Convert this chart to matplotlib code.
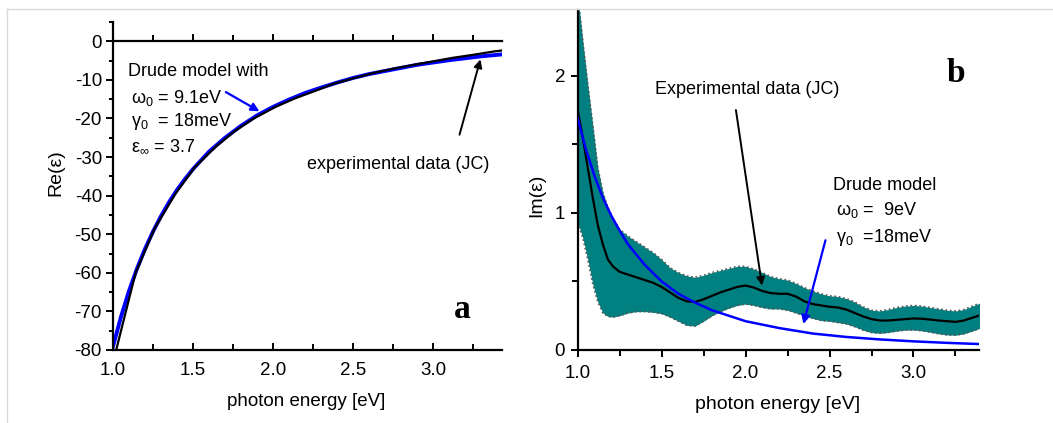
import matplotlib.pyplot as plt
from matplotlib.ticker import MultipleLocator
from matplotlib.lines import Line2D

plt.rcParams['font.family'] = ['Liberation Sans', 'DejaVu Sans']
plt.rcParams['axes.unicode_minus'] = False
plt.rcParams['mathtext.fontset'] = 'custom'
plt.rcParams['mathtext.rm'] = 'Liberation Sans'
plt.rcParams['mathtext.it'] = 'Liberation Sans'

# (a) real part
e_drude_re = [1.00, 1.05, 1.10, 1.15, 1.20, 1.25, 1.30, 1.35, 1.40, 1.45, 1.50, 1.60, 1.70, 1.80,
              1.90, 2.00, 2.10, 2.20, 2.30, 2.40, 2.50, 2.60, 2.70, 2.80, 2.90, 3.00, 3.10,
              3.20, 3.30, 3.43]
re_drude = [-79.1, -71.4, -64.7, -58.9, -53.8, -49.3, -45.3, -41.7, -38.5, -35.7, -33.1, -28.6,
            -25.0, -21.9, -19.2, -17.0, -15.1, -13.4, -12.0, -10.7, -9.5, -8.5, -7.7, -6.9,
            -6.1, -5.5, -4.9, -4.4, -3.9, -3.4]
e_jc_re = [1.02, 1.14, 1.26, 1.39, 1.51, 1.64, 1.76, 1.88, 2.01, 2.13, 2.26, 2.38,
           2.50, 2.63, 2.75, 2.88, 3.00, 3.12, 3.25, 3.37, 3.50]
re_jc = [-80.0, -60.2, -48.5, -39.5, -32.7, -27.4, -23.3, -20.0, -17.1, -14.9, -12.9, -11.0,
         -9.6, -8.2, -7.1, -6.1, -5.2, -4.3, -3.5, -2.7, -2.0]

# (b) imaginary part
e_band = [1.00, 1.03, 1.06, 1.09, 1.12, 1.15, 1.18, 1.21, 1.25, 1.30, 1.35, 1.40, 1.45, 1.50,
          1.55, 1.60, 1.65, 1.70, 1.75, 1.80, 1.85, 1.90, 1.95, 2.00, 2.05, 2.10, 2.15, 2.20,
          2.25, 2.30, 2.35, 2.40, 2.45, 2.50, 2.55, 2.60, 2.65, 2.70, 2.75, 2.80, 2.85, 2.90,
          2.95, 3.00, 3.05, 3.10, 3.15, 3.20, 3.25, 3.30, 3.35, 3.40]
im_hi = [2.60, 2.26, 1.94, 1.64, 1.33, 1.15, 1.04, 0.96, 0.88, 0.83, 0.79, 0.75, 0.71, 0.66,
         0.60, 0.565, 0.54, 0.53, 0.545, 0.565, 0.58, 0.595, 0.61, 0.61, 0.59, 0.565, 0.535, 0.52,
         0.51, 0.485, 0.455, 0.43, 0.41, 0.395, 0.39, 0.375, 0.35, 0.315, 0.29, 0.285, 0.295, 0.31,
         0.32, 0.325, 0.32, 0.31, 0.30, 0.29, 0.285, 0.295, 0.32, 0.345]
im_jc = [1.75, 1.55, 1.33, 1.11, 0.91, 0.77, 0.66, 0.61, 0.57, 0.55, 0.53, 0.51, 0.49, 0.46,
         0.42, 0.38, 0.355, 0.35, 0.37, 0.395, 0.42, 0.44, 0.46, 0.47, 0.455, 0.43, 0.415, 0.41,
         0.41, 0.39, 0.355, 0.335, 0.325, 0.315, 0.31, 0.295, 0.27, 0.245, 0.225, 0.215, 0.215, 0.22,
         0.225, 0.23, 0.228, 0.222, 0.215, 0.21, 0.205, 0.215, 0.235, 0.255]
im_lo = [0.93, 0.82, 0.66, 0.48, 0.35, 0.27, 0.245, 0.24, 0.25, 0.27, 0.28, 0.28, 0.275, 0.265,
         0.24, 0.21, 0.18, 0.175, 0.21, 0.25, 0.28, 0.305, 0.325, 0.335, 0.325, 0.31, 0.30, 0.30,
         0.29, 0.27, 0.25, 0.23, 0.215, 0.21, 0.20, 0.19, 0.17, 0.145, 0.127, 0.122, 0.128, 0.138,
         0.145, 0.146, 0.14, 0.13, 0.118, 0.11, 0.108, 0.118, 0.138, 0.16]
e_drude_im = [1.00, 1.05, 1.10, 1.15, 1.20, 1.25, 1.30, 1.40, 1.50, 1.60, 1.70, 1.80, 2.00,
              2.20, 2.40, 2.60, 2.80, 3.00, 3.20, 3.40]
im_drude = [1.69, 1.46, 1.27, 1.11, 0.98, 0.87, 0.77, 0.62, 0.50, 0.41, 0.345, 0.29, 0.21,
            0.16, 0.12, 0.095, 0.077, 0.063, 0.052, 0.043]

fig = plt.figure(figsize=(10.53, 4.23), dpi=100)

# light frame of the original picture
fig.add_artist(Line2D([7/1053, 1], [1 - 9/423, 1 - 9/423], color='#d9d9d9', lw=1))
fig.add_artist(Line2D([7/1053, 7/1053], [0, 1 - 9/423], color='#d9d9d9', lw=1))

#%% panel a
ax1 = fig.add_axes([0.1073, 0.1726, 0.3694, 0.7754])
ax1.plot(e_drude_re, re_drude, color='blue', lw=2.8, zorder=2)
ax1.plot(e_jc_re, re_jc, color='black', lw=1.6, zorder=3)
ax1.set_xlim(1.0, 3.43)
ax1.set_ylim(-80, 5)
ax1.set_xticks([1.0, 1.5, 2.0, 2.5, 3.0])
ax1.set_yticks(range(-80, 1, 10))
ax1.xaxis.set_minor_locator(MultipleLocator(0.25))
ax1.yaxis.set_minor_locator(MultipleLocator(5))
ax1.spines['right'].set_visible(False)
ax1.spines['top'].set_visible(False)
for s in ['left', 'bottom']:
    ax1.spines[s].set_linewidth(1.6)
ax1.tick_params(axis='x', which='both', direction='in', width=1.4, labelsize=13.5, pad=9)
ax1.tick_params(axis='x', which='major', length=5)
ax1.tick_params(axis='x', which='minor', length=4)
ax1.tick_params(axis='y', which='both', direction='out', width=1.4, labelsize=13.5, pad=3)
ax1.tick_params(axis='y', which='major', length=5)
ax1.tick_params(axis='y', which='minor', length=3)

# top axis sits at y = 0
top = ax1.secondary_xaxis(80 / 85)
top.set_xticks([1.0, 1.5, 2.0, 2.5, 3.0])
top.xaxis.set_minor_locator(MultipleLocator(0.25))
top.tick_params(axis='x', which='both', direction='out', width=1.4, labeltop=False, labelbottom=False)
top.tick_params(axis='x', which='major', length=5)
top.tick_params(axis='x', which='minor', length=4)
top.spines['top'].set_linewidth(1.6)

ax1.set_xlabel('photon energy [eV]', fontsize=13.5)
ax1.xaxis.set_label_coords(0.496, -0.13)
ax1.set_ylabel('Re(ε)', fontsize=14)
ax1.yaxis.set_label_coords(-0.125, 0.54)

ax1.text(1.094, -7.85, 'Drude model with', fontsize=13, va='center')
ax1.text(1.11, -14.6, r'$\mathregular{\omega_0}$ = 9.1eV', fontsize=13, va='center')
ax1.text(1.11, -20.8, r'$\mathregular{\gamma_0}$  = 18meV', fontsize=13, va='center')
ax1.text(1.11, -27.3, r'$\mathregular{ε_\infty}$ = 3.7', fontsize=13, va='center')
ax1.annotate('', xy=(1.93, -18.5), xytext=(1.69, -12.8),
             arrowprops=dict(arrowstyle='-|>', color='blue', lw=1.6, mutation_scale=12))
ax1.text(2.21, -32, 'experimental data (JC)', fontsize=13, va='center')
ax1.annotate('', xy=(3.30, -4.0), xytext=(3.16, -24.9),
             arrowprops=dict(arrowstyle='-|>', color='black', lw=1.4, mutation_scale=12))
ax1.text(3.18, -69.5, 'a', fontsize=24, fontweight='bold', family='Liberation Serif',
         ha='center', va='center')

#%% panel b
ax2 = fig.add_axes([0.5486, 0.1726, 0.3811, 0.8038])
ax2.fill_between(e_band, im_lo, im_hi, color='#008080', lw=0, zorder=1)
ax2.plot(e_band, im_hi, color='#555555', lw=1.2, ls=':', zorder=2)
ax2.plot(e_band, im_lo, color='#555555', lw=1.2, ls=':', zorder=2)
ax2.plot(e_band, im_jc, color='black', lw=1.6, zorder=3)
ax2.plot(e_drude_im, im_drude, color='blue', lw=1.8, zorder=4)
ax2.set_xlim(1.0, 3.39)
ax2.set_ylim(0, 2.48)
ax2.set_xticks([1.0, 1.5, 2.0, 2.5, 3.0])
ax2.set_yticks([0, 1, 2])
ax2.xaxis.set_minor_locator(MultipleLocator(0.25))
ax2.yaxis.set_minor_locator(MultipleLocator(0.5))
ax2.spines['right'].set_visible(False)
ax2.spines['top'].set_visible(False)
for s in ['left', 'bottom']:
    ax2.spines[s].set_linewidth(1.6)
ax2.tick_params(axis='both', which='both', direction='out', width=1.4, labelsize=13.5)
ax2.tick_params(axis='both', which='major', length=5)
ax2.tick_params(axis='both', which='minor', length=4)
ax2.tick_params(axis='x', pad=6)
ax2.tick_params(axis='y', pad=4)

ax2.set_xlabel('photon energy [eV]', fontsize=14)
ax2.xaxis.set_label_coords(0.499, -0.135)
ax2.set_ylabel('Im(ε)', fontsize=14)
ax2.yaxis.set_label_coords(-0.081, 0.456)

ax2.text(1.46, 1.90, 'Experimental data (JC)', fontsize=13, va='center')
ax2.annotate('', xy=(2.10, 0.45), xytext=(1.94, 1.77),
             arrowprops=dict(arrowstyle='-|>', color='black', lw=1.4, mutation_scale=12))
ax2.text(2.52, 1.20, 'Drude model', fontsize=13, va='center')
ax2.text(2.54, 1.02, r'$\mathregular{\omega_0}$ =  9eV', fontsize=13, va='center')
ax2.text(2.54, 0.82, r'$\mathregular{\gamma_0}$  =18meV', fontsize=13, va='center')
ax2.annotate('', xy=(2.34, 0.17), xytext=(2.48, 0.82),
             arrowprops=dict(arrowstyle='-|>', color='blue', lw=1.6, mutation_scale=12))
ax2.text(3.25, 2.02, 'b', fontsize=24, fontweight='bold', family='Liberation Serif',
         ha='center', va='center')

fig.savefig('out.png', dpi=100)
